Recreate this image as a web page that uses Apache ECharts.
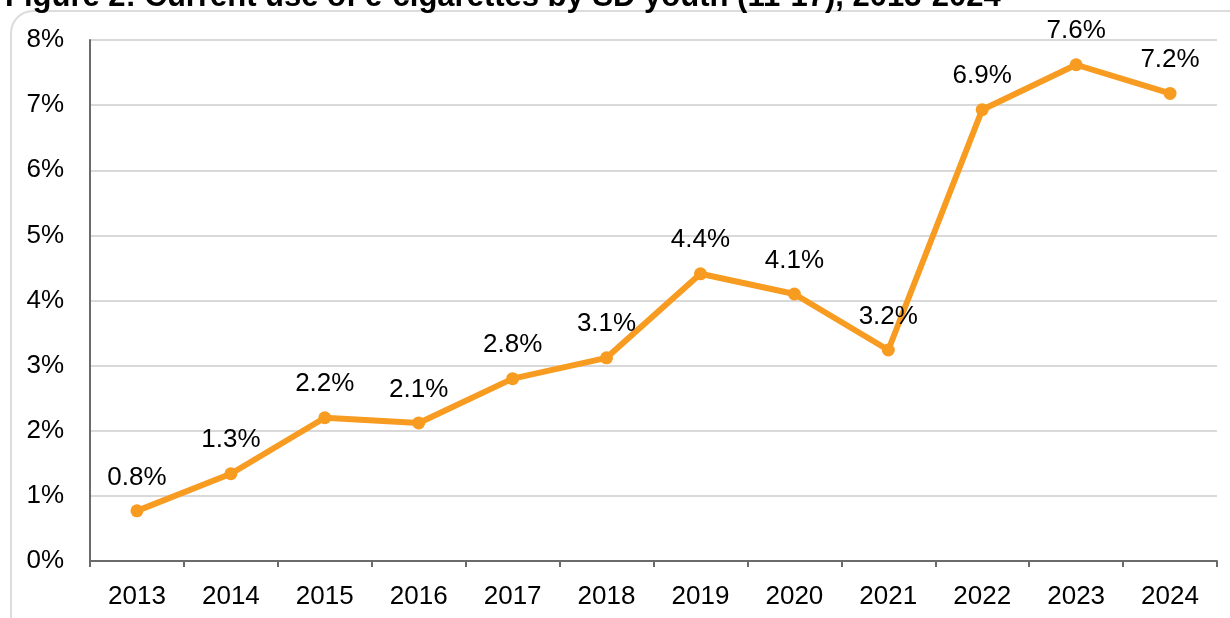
<!DOCTYPE html>
<html>
<head>
<meta charset="utf-8">
<script src="https://cdn.jsdelivr.net/npm/echarts@6/dist/echarts.min.js"></script>
<style>
  html, body { margin: 0; padding: 0; background: #fff; }
  #chart { width: 1230px; height: 618px; }
</style>
</head>
<body>
<div id="chart"></div>
<script>
// e-cigarette use, SD youth
var years = ["2013", "2014", "2015", "2016", "2017", "2018", "2019", "2020", "2021", "2022", "2023", "2024"];
var usePct = [0.77, 1.34, 2.2, 2.12, 2.8, 3.12, 4.41, 4.1, 3.24, 6.93, 7.62, 7.18];
var pctTicks = [0, 1, 2, 3, 4, 5, 6, 7, 8];

var myChart = echarts.init(document.getElementById("chart"));
var font = "Liberation Sans";

var option = {
  backgroundColor: "#fff",
  textStyle: { fontFamily: font },
  title: {
    text: "Figure 2: Current use of e-cigarettes by SD youth (11-17), 2013-2024",
    left: 0,
    top: -23,
    textStyle: { fontFamily: font, fontWeight: "bold", fontSize: 31, color: "#000" }
  },
  graphic: [
    {
      type: "rect",
      shape: { x: 11, y: 11, width: 1240, height: 640, r: 22 },
      style: { fill: "none", stroke: "#dcdcdc", lineWidth: 2 },
      silent: true,
      z: -1
    }
  ],
  grid: { left: 90, right: 13, top: 40, bottom: 57 },
  xAxis: {
    type: "category",
    data: years,
    boundaryGap: true,
    axisLine: { lineStyle: { color: "#6b6b6b", width: 2 } },
    axisTick: { show: true, length: 6, lineStyle: { color: "#6b6b6b", width: 2 } },
    axisLabel: { color: "#000", fontSize: 26, margin: 23, fontFamily: font }
  },
  yAxis: {
    type: "value",
    min: pctTicks[0],
    max: pctTicks[pctTicks.length - 1],
    interval: 1,
    axisLine: { show: true, lineStyle: { color: "#6b6b6b", width: 2 } },
    axisTick: { show: false },
    splitLine: { lineStyle: { color: "#d9d9d9", width: 2 } },
    axisLabel: { color: "#000", fontSize: 26, margin: 26, fontFamily: font, formatter: "{value}%" }
  },
  series: [
    {
      name: "Current use",
      type: "line",
      data: usePct,
      symbol: "circle",
      symbolSize: 13,
      lineStyle: { color: "#F89B21", width: 6 },
      itemStyle: { color: "#F89B21" },
      label: {
        show: true,
        position: "top",
        distance: 14,
        color: "#000",
        fontSize: 26,
        fontFamily: font,
        formatter: function (p) { return p.value.toFixed(1) + "%"; }
      }
    }
  ]
};
myChart.setOption(option);
</script>
</body>
</html>
